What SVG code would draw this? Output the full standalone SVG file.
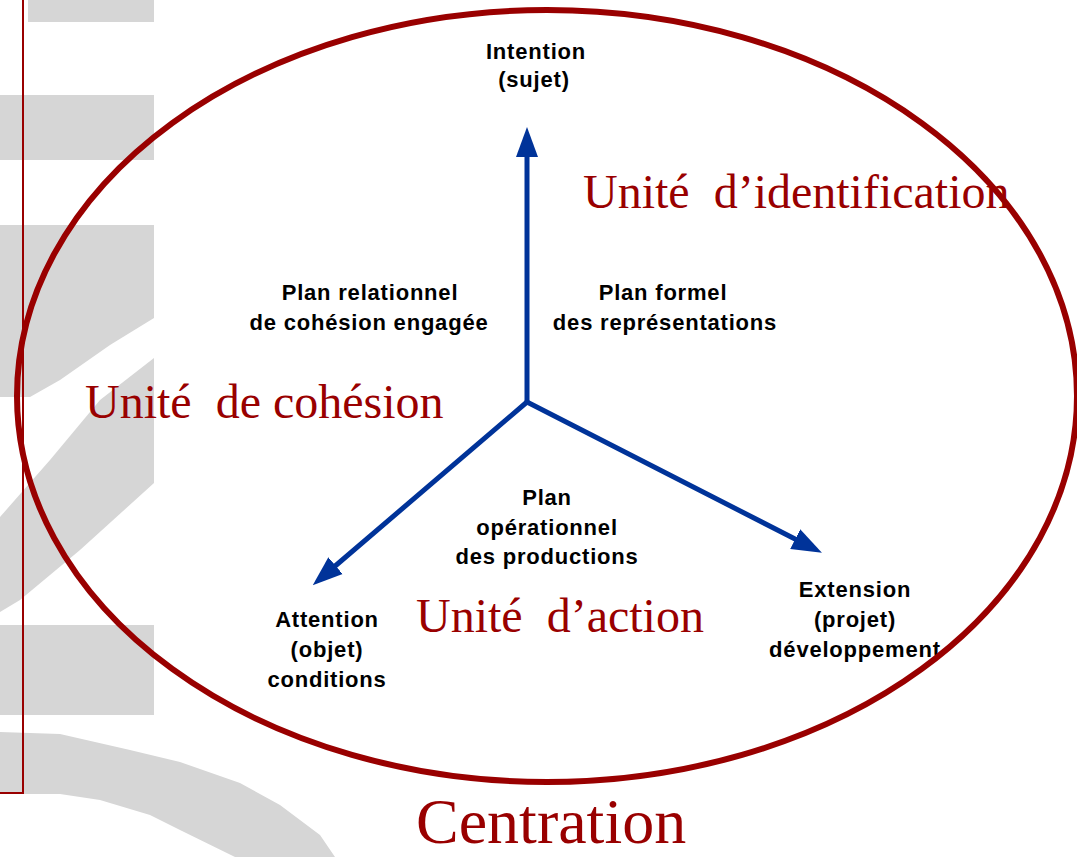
<svg xmlns="http://www.w3.org/2000/svg" width="1077" height="857" viewBox="0 0 1077 857">
  <style>
    .bg { fill: #d6d6d6; stroke: none; }
    .lbl { font-family: "Liberation Sans", Arial, sans-serif; font-size: 22px; font-weight: bold; fill: #000; text-anchor: middle; letter-spacing: 0.8px; }
    .unit { font-family: "Liberation Serif", "Times New Roman", serif; font-size: 48px; fill: #990000; }
    .axis { stroke: #003399; stroke-width: 5; fill: none; stroke-linecap: round; }
  </style>
  <defs>
    <marker id="arrow" markerUnits="userSpaceOnUse" markerWidth="30" markerHeight="24" refX="2" refY="12" orient="auto">
      <path d="M0,1 L30,12 L0,23 z" fill="#003399"/>
    </marker>
  </defs>
  <rect x="0" y="0" width="1077" height="857" fill="#ffffff"/>
  <g id="background">
    <rect class="bg" x="28" y="0" width="126" height="22"/>
    <rect class="bg" x="0" y="95" width="154" height="65"/>
    <polygon class="bg" points="0,225 154,225 154,318 110,345 60,380 30,397 0,397"/>
    <polygon class="bg" points="154,358 100,400 50,460 0,517 0,612 20,600 80,550 154,483"/>
    <rect class="bg" x="0" y="625" width="154" height="90"/>
    <polygon class="bg" points="0,732 60,734 130,750 180,762 240,783 280,805 320,835 335,857 235,857 180,830 150,815 100,800 60,794 0,794"/>
    <polyline points="23,0 23,793 0,793" fill="none" stroke="#990000" stroke-width="2"/>
  </g>
  <g id="connectors">
    <path class="axis" d="M527,402 L527,155" marker-end="url(#arrow)"/>
    <path class="axis" d="M527,402 L334,567" marker-end="url(#arrow)"/>
    <path class="axis" d="M527,402 L797,540" marker-end="url(#arrow)"/>
  </g>
  <g id="node-intention">
    <text class="lbl" x="536" y="59">Intention</text>
    <text class="lbl" x="534" y="87">(sujet)</text>
  </g>
  <g id="node-plan-relationnel">
    <text class="lbl" x="370" y="300">Plan relationnel</text>
    <text class="lbl" x="369" y="330">de cohésion engagée</text>
  </g>
  <g id="node-plan-formel">
    <text class="lbl" x="663" y="300">Plan formel</text>
    <text class="lbl" x="665" y="330">des représentations</text>
  </g>
  <g id="node-plan-operationnel">
    <text class="lbl" x="547" y="505">Plan</text>
    <text class="lbl" x="547" y="535">opérationnel</text>
    <text class="lbl" x="547" y="564">des productions</text>
  </g>
  <g id="node-attention">
    <text class="lbl" x="327" y="627">Attention</text>
    <text class="lbl" x="327" y="657">(objet)</text>
    <text class="lbl" x="327" y="687">conditions</text>
  </g>
  <g id="node-extension">
    <text class="lbl" x="855" y="597">Extension</text>
    <text class="lbl" x="855" y="627">(projet)</text>
    <text class="lbl" x="855" y="657">développement</text>
  </g>
  <g id="unit-identification">
    <text class="unit" x="583" y="208" xml:space="preserve">Unité  d’identification</text>
  </g>
  <g id="unit-cohesion">
    <text class="unit" x="85" y="418" xml:space="preserve">Unité  de cohésion</text>
  </g>
  <g id="unit-action">
    <text class="unit" x="416" y="632" xml:space="preserve">Unité  d’action</text>
  </g>
  <g id="centration">
    <ellipse cx="547" cy="396" rx="530" ry="386" fill="none" stroke="#990000" stroke-width="6"/>
    <text class="unit" x="416" y="843" style="font-size:64px">Centration</text>
  </g>
</svg>
